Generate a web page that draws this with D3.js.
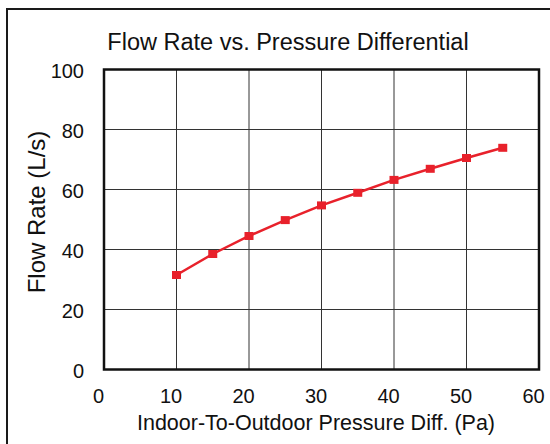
<!DOCTYPE html>
<html>
<head>
<meta charset="utf-8">
<script src="https://cdn.jsdelivr.net/npm/d3@7"></script>
<style>
  body { margin: 0; background: #fff; }
  svg { display: block; font-family: Arial, "Liberation Sans", sans-serif; }
</style>
</head>
<body>
<svg width="550" height="444"></svg>
<script>
// values
const pressure = [10, 15, 20, 25, 30, 35, 40, 45, 50, 55];
const flowRate = [31.5, 38.5, 44.5, 49.8, 54.7, 58.9, 63.2, 66.9, 70.5, 73.9];
const xTicks = [0, 10, 20, 30, 40, 50, 60];
const yTicks = [0, 20, 40, 60, 80, 100];

const svg = d3.select('svg');

// outer frame, runs off the right and bottom edges
svg.append('rect')
  .attr('x', 7).attr('y', 9)
  .attr('width', 560).attr('height', 460)
  .attr('fill', 'none')
  .attr('stroke', '#1a1a1a')
  .attr('stroke-width', 2);

const margin = { left: 104, right: 539, top: 69.5, bottom: 369.5 };

const x = d3.scaleLinear().domain([0, 60]).range([margin.left, margin.right]);
const y = d3.scaleLinear().domain([0, 100]).range([margin.bottom, margin.top]);

// grid
const grid = svg.append('g').attr('stroke', '#333').attr('stroke-width', 1);
grid.selectAll('line.v')
  .data(xTicks.slice(1, -1))
  .enter().append('line')
  .attr('x1', d => x(d)).attr('x2', d => x(d))
  .attr('y1', margin.top).attr('y2', margin.bottom);
grid.selectAll('line.h')
  .data(yTicks.slice(1, -1))
  .enter().append('line')
  .attr('y1', d => y(d)).attr('y2', d => y(d))
  .attr('x1', margin.left).attr('x2', margin.right);

// plot border
svg.append('rect')
  .attr('x', margin.left).attr('y', margin.top)
  .attr('width', margin.right - margin.left)
  .attr('height', margin.bottom - margin.top)
  .attr('fill', 'none')
  .attr('stroke', '#111')
  .attr('stroke-width', 2.5);

// tick labels
svg.append('g')
  .selectAll('text')
  .data(xTicks)
  .enter().append('text')
  .attr('x', d => x(d) - 5.5)
  .attr('y', 403)
  .attr('text-anchor', 'middle')
  .attr('font-size', 20)
  .attr('fill', '#111')
  .text(d => d);

svg.append('g')
  .selectAll('text')
  .data(yTicks)
  .enter().append('text')
  .attr('x', 84)
  .attr('y', d => y(d) + 8)
  .attr('text-anchor', 'end')
  .attr('font-size', 20)
  .attr('fill', '#111')
  .text(d => d);

// titles
svg.append('text')
  .attr('x', 288).attr('y', 50)
  .attr('text-anchor', 'middle')
  .attr('font-size', 23.5)
  .attr('fill', '#111')
  .text('Flow Rate vs. Pressure Differential');

svg.append('text')
  .attr('x', 316).attr('y', 430)
  .attr('text-anchor', 'middle')
  .attr('font-size', 21.5)
  .attr('fill', '#111')
  .text('Indoor-To-Outdoor Pressure Diff. (Pa)');

svg.append('text')
  .attr('transform', 'translate(45,212) rotate(-90)')
  .attr('text-anchor', 'middle')
  .attr('font-size', 24)
  .attr('fill', '#111')
  .text('Flow Rate (L/s)');

// series
const pts = pressure.map((p, i) => [p, flowRate[i]]);

svg.append('path')
  .datum(pts)
  .attr('fill', 'none')
  .attr('stroke', '#e8212b')
  .attr('stroke-width', 2.5)
  .attr('d', d3.line().x(d => x(d[0])).y(d => y(d[1])));

svg.append('g')
  .selectAll('rect')
  .data(pts)
  .enter().append('rect')
  .attr('x', d => x(d[0]) - 4.5)
  .attr('y', d => y(d[1]) - 4)
  .attr('width', 9)
  .attr('height', 8)
  .attr('fill', '#e8212b');
</script>
</body>
</html>
